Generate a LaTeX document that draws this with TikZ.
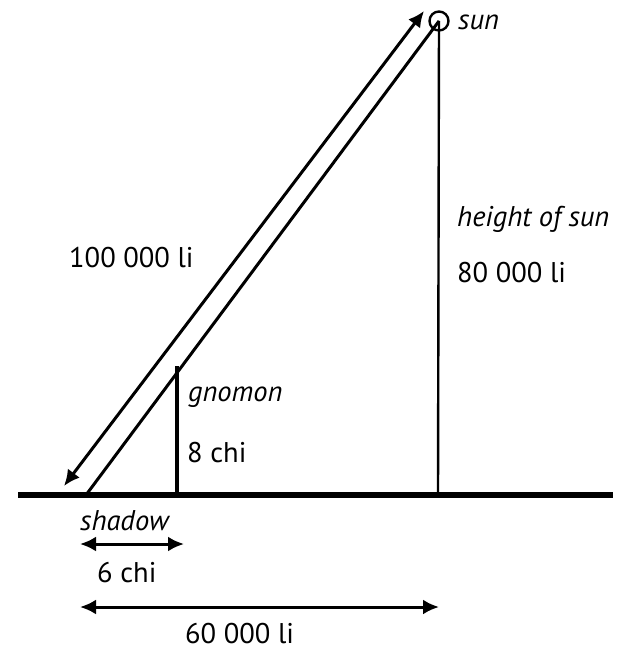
\documentclass[tikz,border=0pt]{standalone}
\usepackage{fontspec}
\setmainfont{PT Sans}
\usetikzlibrary{arrows.meta}
\begin{document}
\begin{tikzpicture}[x=1pt,y=-1pt,
  lbl/.style={inner sep=0pt,anchor=base west,font=\fontsize{28.5}{31}\selectfont},
  ilbl/.style={lbl,font=\fontsize{28.5}{31}\selectfont\itshape},
  dim/.style={line width=3pt,{Latex[length=16pt,width=15pt]}-{Latex[length=16pt,width=15pt]}},
  thinline/.style={line width=2.4pt},
  hyp/.style={line width=3pt}]
\useasboundingbox (0,0) rectangle (634,650);
% key points
\node[circle,draw,line width=2.4pt,minimum size=19pt,inner sep=0pt] (sun) at (439,21) {};
\coordinate (gl) at (18,495);
\coordinate (gr) at (613,495);
\coordinate (foot) at (438,495);
\coordinate (tip) at (86,495);
\coordinate (gbase) at (177,495);
\coordinate (gtop) at (177,366);
\coordinate (a1) at (424,11);
\coordinate (a2) at (64,486);
\coordinate (s1) at (80,544);
\coordinate (s2) at (184,544);
\coordinate (d1) at (80,607);
\coordinate (d2) at (439,607);
% lines
\draw[line width=5.5pt] (gl) -- (gr);
\draw[thinline] (sun.center) -- (foot);
\draw[hyp] (sun.center) -- (tip);
\draw[line width=4.5pt] (gbase) -- (gtop);
\draw[dim] (a1) -- (a2);
\draw[dim] (s1) -- (s2);
\draw[dim] (d1) -- (d2);
% labels
\node[ilbl] (tsun) at (458,30) {sun};
\node[ilbl] (thgt) at (457,226) {height of sun};
\node[lbl] (t80) at (457,282) {80 000 li};
\node[lbl] (t100) at (69,267) {100 000 li};
\node[ilbl] (tgn) at (188,401) {gnomon};
\node[lbl] (t8) at (187,462) {8 chi};
\node[ilbl] (tsh) at (80,530) {shadow};
\node[lbl] (t6) at (97,582) {6 chi};
\node[lbl] (t60) at (185,643) {60 000 li};
\end{tikzpicture}
\end{document}
